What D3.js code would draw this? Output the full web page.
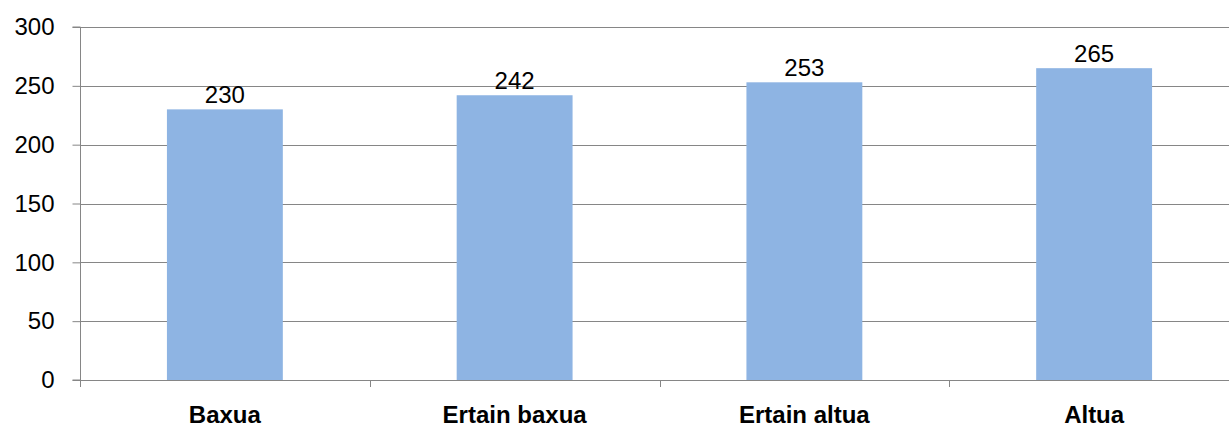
<!DOCTYPE html>
<html>
<head>
<meta charset="utf-8">
<script src="https://cdn.jsdelivr.net/npm/d3@7"></script>
<style>
  html, body { margin: 0; padding: 0; background: #fff; }
  svg { display: block; }
  text { font-family: "Liberation Sans", Arial, sans-serif; fill: #000; }
</style>
</head>
<body>
<svg id="chart" width="1229" height="428"></svg>
<script>
const categories = ["Baxua", "Ertain baxua", "Ertain altua", "Altua"];
const values = [230, 242, 253, 265];
const yTicks = [0, 50, 100, 150, 200, 250, 300];

const svg = d3.select("#chart");
const plotLeft = 80, plotRight = 1239, plotTop = 27, plotBottom = 380;

const x = d3.scaleBand().domain(categories).range([plotLeft, plotRight]).paddingInner(0.6).paddingOuter(0.3);
const xOuter = d3.scaleBand().domain(categories).range([plotLeft, plotRight]);
const y = d3.scaleLinear().domain([0, 300]).range([plotBottom, plotTop]);

const gridColor = "#868686";

// gridlines
svg.append("g").selectAll("line").data(yTicks.filter(d => d > 0)).join("line")
  .attr("x1", plotLeft).attr("x2", plotRight)
  .attr("y1", d => Math.round(y(d)) + 0.5).attr("y2", d => Math.round(y(d)) + 0.5)
  .attr("stroke", gridColor).attr("stroke-width", 1);

// bars
svg.append("g").selectAll("rect").data(values).join("rect")
  .attr("x", (d, i) => x(categories[i]))
  .attr("width", x.bandwidth())
  .attr("y", d => y(d))
  .attr("height", d => y(0) - y(d))
  .attr("fill", "#8EB4E3");

// y axis
const yAxis = d3.axisLeft(y).tickValues(yTicks).tickSize(8).tickPadding(18).tickFormat(d3.format("d"));
const gy = svg.append("g").attr("transform", `translate(${plotLeft + 0.5},0)`).call(yAxis);
gy.select(".domain").attr("stroke", gridColor).attr("d", `M-8,${y(300)}H0V${y(0)}H-8`);
gy.selectAll(".tick line").attr("stroke", gridColor);
gy.selectAll(".tick text").attr("font-size", 24).attr("fill", "#000")
  .style("font-family", '"Liberation Sans", Arial, sans-serif');

// x axis baseline
svg.append("line").attr("x1", plotLeft).attr("x2", plotRight)
  .attr("y1", Math.round(y(0)) + 0.5).attr("y2", Math.round(y(0)) + 0.5)
  .attr("stroke", gridColor);

// category boundary ticks
const boundaries = categories.map(c => xOuter(c)).concat([plotRight]);
svg.append("g").selectAll("line").data(boundaries).join("line")
  .attr("x1", d => Math.round(d) + 0.5).attr("x2", d => Math.round(d) + 0.5)
  .attr("y1", y(0)).attr("y2", y(0) + 7)
  .attr("stroke", gridColor);

// category labels
svg.append("g").selectAll("text").data(categories).join("text")
  .attr("x", d => x(d) + x.bandwidth() / 2)
  .attr("y", 423)
  .attr("text-anchor", "middle")
  .attr("font-size", 24).attr("font-weight", "bold")
  .text(d => d);

// data labels
svg.append("g").selectAll("text").data(values).join("text")
  .attr("x", (d, i) => x(categories[i]) + x.bandwidth() / 2)
  .attr("y", d => y(d) - 6)
  .attr("text-anchor", "middle")
  .attr("font-size", 24)
  .text(d => d);
</script>
</body>
</html>
